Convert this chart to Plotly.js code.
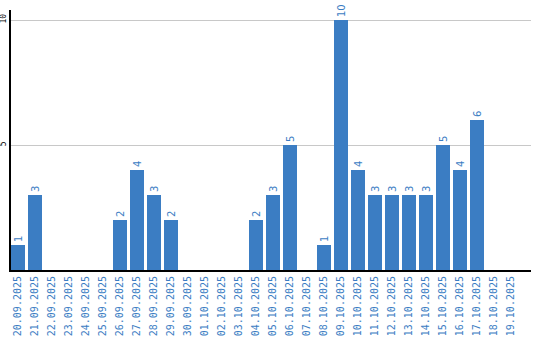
<!DOCTYPE html>
<html><head><meta charset="utf-8">
<script src="https://cdn.plot.ly/plotly-3.0.1.min.js"></script>
<style>html,body{margin:0;padding:0;background:#fff}#c{width:540px;height:340px}</style>
</head><body><div id="c"></div>
<script>
const dates = ["20.09.2025","21.09.2025","22.09.2025","23.09.2025","24.09.2025","25.09.2025","26.09.2025","27.09.2025","28.09.2025","29.09.2025","30.09.2025","01.10.2025","02.10.2025","03.10.2025","04.10.2025","05.10.2025","06.10.2025","07.10.2025","08.10.2025","09.10.2025","10.10.2025","11.10.2025","12.10.2025","13.10.2025","14.10.2025","15.10.2025","16.10.2025","17.10.2025","18.10.2025","19.10.2025"];
const counts = [1,3,0,0,0,0,2,4,3,2,0,0,0,0,2,3,5,0,1,10,4,3,3,3,3,5,4,6,0,0];
const yTicks = [5,10];

const idx = dates.map((d,i)=>i);
const blue = '#3b7dc3';
Plotly.newPlot('c', [{
  type:'bar', x: idx, y: counts, width: 14/17,
  marker:{color: blue},
  text: counts.map(v => v ? String(v) : ''),
  textposition:'outside', textangle:-90, cliponaxis:false,
  textfont:{family:'DejaVu Sans', size:10, color: blue},
  hoverinfo:'none'
}], {
  width:540, height:340,
  margin:{l:11, r:9, t:10, b:70, pad:0},
  paper_bgcolor:'#fff', plot_bgcolor:'#fff',
  showlegend:false,
  xaxis:{
    range:[-7/17, 513/17], tickmode:'array', tickvals: idx, ticktext: dates,
    tickangle:-90, tickfont:{family:'DejaVu Sans Mono', size:10, color: blue},
    showgrid:false, zeroline:false, showline:true, linecolor:'#000', linewidth:2,
    ticks:'', fixedrange:true
  },
  yaxis:{
    range:[0,10.4], tickmode:'array', tickvals: yTicks, ticktext: yTicks.map(String),
    tickangle:-90, tickfont:{family:'DejaVu Sans Mono', size:8, color:'#000'},
    showgrid:true, gridcolor:'#c8c8c8', gridwidth:1, zeroline:false,
    showline:true, linecolor:'#000', linewidth:2, ticks:'', ticklen:0, fixedrange:true
  },
  bargap:0
}, {staticPlot:true, displayModeBar:false});
</script></body></html>
